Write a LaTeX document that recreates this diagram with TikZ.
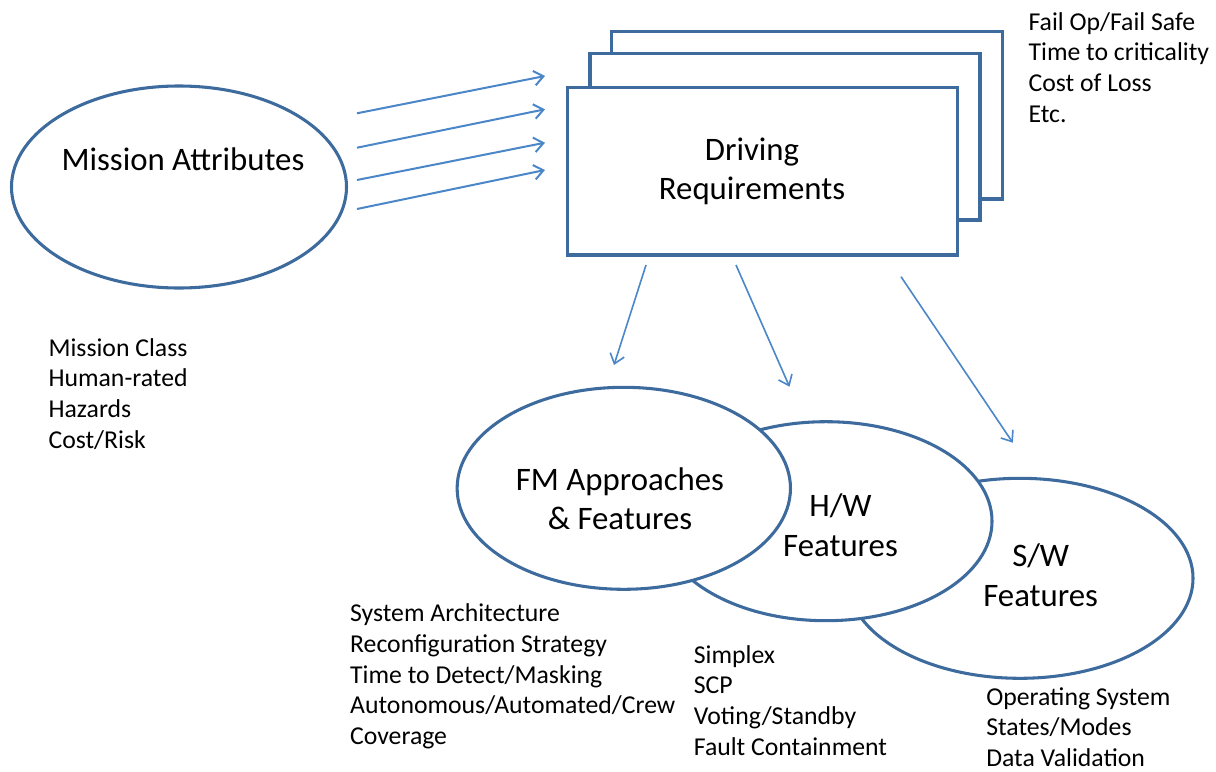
\documentclass[tikz,border=0pt]{standalone}
\usepackage{fontspec}
\setmainfont{Carlito}
\usetikzlibrary{shapes.geometric,arrows.meta}
\definecolor{border}{HTML}{3D6B9E}
\definecolor{arrowblue}{HTML}{4A86C8}
\begin{document}
\begin{tikzpicture}[x=0.75pt,y=-0.75pt,
  shapeline/.style={draw=border,line width=2.3pt,fill=white,inner sep=0pt},
  oval/.style={shapeline,ellipse},
  sheet/.style={shapeline,rectangle},
  flow/.style={draw=arrowblue,line width=1.5pt,-{Straight Barb[length=7pt,width=11pt]}},
  downflow/.style={flow,line width=1.2pt},
  biglabel/.style={font=\fontsize{24.6}{29.5}\selectfont,align=flush center,text width=300pt,inner sep=0pt,anchor=base},
  listlabel/.style={font=\fontsize{19.3}{23}\selectfont,align=flush left,text width=260pt,inner sep=0pt,anchor=base west}
]
\useasboundingbox (0,0) rectangle (1216,771);

% stacked requirement sheets
\node[sheet,minimum width=293.25pt,minimum height=125.5pt] (sheet3) at (807.2,115.35) {};
\node[sheet,minimum width=292.5pt,minimum height=125pt] (sheet2) at (785,136.65) {};
\node[sheet,minimum width=292.5pt,minimum height=125.5pt] (req) at (762.7,171.35) {};
\node[biglabel] (reqtext) at (752,160) {Driving\\Requirements};

% mission ellipse
\node[oval,minimum width=251.25pt,minimum height=151.5pt] (mission) at (179,187) {};
\node[biglabel] (missiontext) at (183,170) {Mission Attributes};

% feature ellipses
\node[oval,minimum width=259.5pt,minimum height=150pt] (sw) at (1020,578.3) {};
\node[oval,minimum width=249pt,minimum height=149.25pt] (hw) at (826,521.2) {};
\node[oval,minimum width=250pt,minimum height=151.5pt] (fm) at (623.8,488.3) {};
\node[biglabel] (fmtext) at (620,490) {FM Approaches\\\& Features};
\node[biglabel] (hwtext) at (840.5,516.7) {H/W\\Features};
\node[biglabel] (swtext) at (1040.7,566.7) {S/W\\Features};

% lists
\node[listlabel] (failist) at (1028.3,30) {Fail Op/Fail Safe\\Time to criticality\\Cost of Loss\\Etc.};
\node[listlabel] (mislist) at (48.3,356) {Mission Class\\Human-rated\\Hazards\\Cost/Risk};
\node[listlabel] (fmlist) at (349.9,621.7) {System Architecture\\Reconfiguration Strategy\\Time to Detect/Masking\\Autonomous/Automated/Crew\\Coverage};
\node[listlabel] (hwlist) at (693.6,663.3) {Simplex\\SCP\\Voting/Standby\\Fault Containment};
\node[listlabel] (swlist) at (986,705) {Operating System\\States/Modes\\Data Validation};

% arrow end points
\coordinate (m1) at (357,113.3);  \coordinate (r1) at (545,76);
\coordinate (m2) at (357,147.7);  \coordinate (r2) at (545,109.3);
\coordinate (m3) at (357,180);    \coordinate (r3) at (545,142.7);
\coordinate (m4) at (357,209);    \coordinate (r4) at (545,170);
\coordinate (d1) at (646,265);    \coordinate (e1) at (614,365);
\coordinate (d2) at (736,265);    \coordinate (e2) at (789.5,386.7);
\coordinate (d3) at (901,276.7);  \coordinate (e3) at (1012.8,442.7);

\draw[flow] (m1) -- (r1);
\draw[flow] (m2) -- (r2);
\draw[flow] (m3) -- (r3);
\draw[flow] (m4) -- (r4);
\draw[downflow] (d1) -- (e1);
\draw[downflow] (d2) -- (e2);
\draw[downflow] (d3) -- (e3);
\end{tikzpicture}
\end{document}
